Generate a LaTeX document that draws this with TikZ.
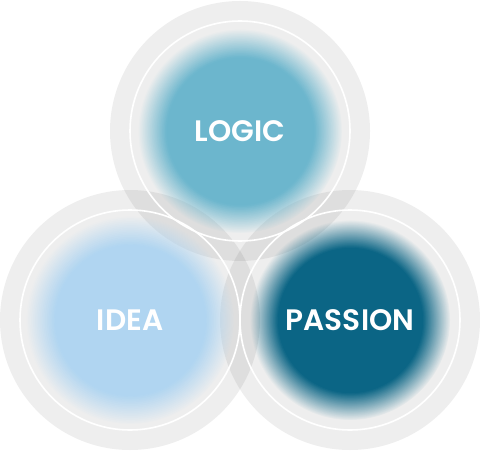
\documentclass[tikz,border=0pt]{standalone}
\usepackage{fontspec}
\setmainfont{Poppins}[BoldFont={Poppins SemiBold}]
\usetikzlibrary{fadings}
\definecolor{logicblue}{HTML}{6CB6CD}
\definecolor{ideablue}{HTML}{B0D5F1}
\definecolor{passionblue}{HTML}{0B6585}
\pgfdeclareradialshading{fuzzyshade}{\pgfpointorigin}{color(0bp)=(pgftransparent!0); color(18bp)=(pgftransparent!0); color(25bp)=(pgftransparent!100); color(50bp)=(pgftransparent!100)}
\pgfdeclarefading{fuzzy}{\pgfuseshading{fuzzyshade}}
\begin{document}
\begin{tikzpicture}[x=0.5pt,y=0.5pt,font=\fontsize{14.8}{16}\selectfont\bfseries,
	ring/.style={fill=black,fill opacity=0.065},
	rim/.style={draw=white,line width=0.8pt},
	blob/.style={fill=#1,path fading=fuzzy},
	word/.style={text=white,inner sep=0pt}]
	\useasboundingbox (0,0) rectangle (480,450);
	\coordinate (L) at (240,319);
	\coordinate (I) at (130,130);
	\coordinate (P) at (350,130);
	\foreach \c in {L,I,P}{\fill[ring] (\c) circle (130);}
	\fill[blob=logicblue] (L) circle (102);
	\fill[blob=ideablue] (I) circle (104);
	\fill[blob=passionblue] (P) circle (100);
	\foreach \c in {L,I,P}{\draw[rim] (\c) circle (110);}
	\node[word] (logic) at (L) {LOGIC};
	\node[word] (idea) at (I) {IDEA};
	\node[word] (passion) at (P) {PASSION};
\end{tikzpicture}
\end{document}
